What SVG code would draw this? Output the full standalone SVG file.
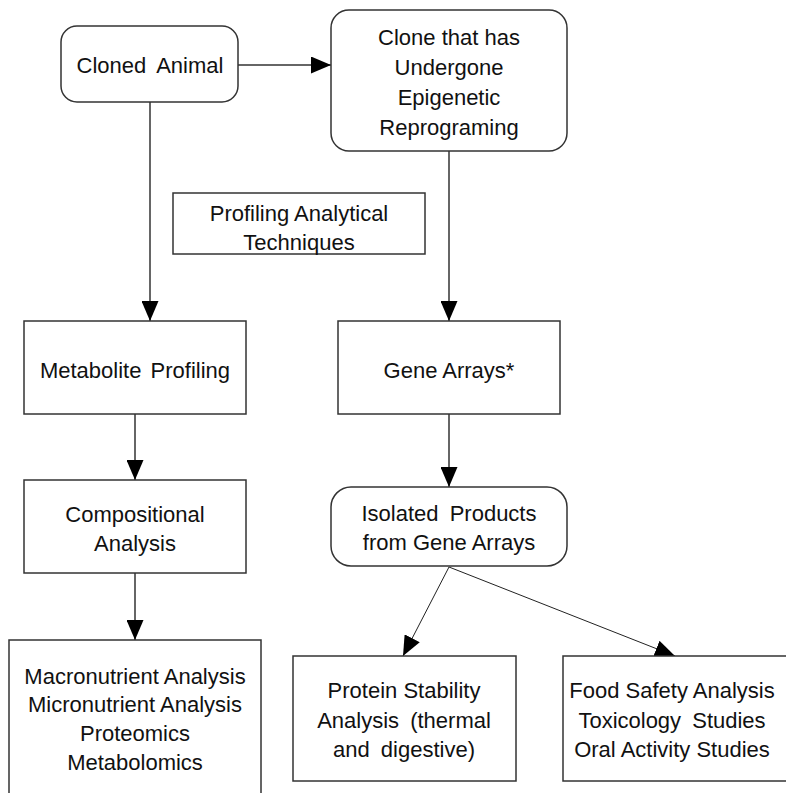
<svg xmlns="http://www.w3.org/2000/svg" width="786" height="793" viewBox="0 0 786 793">
<style>
.box{fill:#fff;stroke:#333;stroke-width:1.5}
.t{font-family:"Liberation Sans",Arial,sans-serif;font-size:22px;fill:#111;text-anchor:middle}
.w{word-spacing:5px}
.c{fill:none;stroke:#333;stroke-width:1.5}
.d{fill:none;stroke:#222;stroke-width:1}
</style>
<defs>
<marker id="ah" markerUnits="userSpaceOnUse" markerWidth="20" markerHeight="17" refX="20" refY="8.5" orient="auto">
<path d="M0,0 L20,8.5 L0,17 z" fill="#000"/>
</marker>
</defs>
<rect width="786" height="793" fill="#fff"/>
<g id="connectors">
<line class="c" x1="238" y1="65" x2="331" y2="65" marker-end="url(#ah)"/>
<line class="c" x1="150" y1="102" x2="150" y2="321" marker-end="url(#ah)"/>
<line class="c" x1="449" y1="151" x2="449" y2="321" marker-end="url(#ah)"/>
<line class="c" x1="135" y1="414" x2="135" y2="480" marker-end="url(#ah)"/>
<line class="c" x1="135" y1="573" x2="135" y2="640" marker-end="url(#ah)"/>
<line class="c" x1="449" y1="414" x2="449" y2="487" marker-end="url(#ah)"/>
<line class="d" x1="449" y1="567" x2="403" y2="656" marker-end="url(#ah)"/>
<line class="d" x1="449" y1="567" x2="675" y2="656" marker-end="url(#ah)"/>
</g>
<g id="cloned-animal">
<rect class="box" x="61" y="26" width="177" height="76" rx="16"/>
<text class="t w" x="150" y="73">Cloned Animal</text>
</g>
<g id="clone-reprogramed">
<rect class="box" x="331" y="10" width="236" height="141" rx="18"/>
<text class="t" x="449" y="45">Clone that has</text>
<text class="t" x="449" y="75">Undergone</text>
<text class="t" x="449" y="105">Epigenetic</text>
<text class="t" x="449" y="135">Reprograming</text>
</g>
<g id="profiling">
<rect class="box" x="173" y="193" width="252" height="61"/>
<text class="t" x="299" y="221">Profiling Analytical</text>
<text class="t" x="299" y="250">Techniques</text>
</g>
<g id="metabolite">
<rect class="box" x="24" y="321" width="222" height="93"/>
<text class="t" x="135" y="378" style="word-spacing:3px">Metabolite Profiling</text>
</g>
<g id="gene-arrays">
<rect class="box" x="338" y="321" width="222" height="93"/>
<text class="t" x="449" y="378">Gene Arrays*</text>
</g>
<g id="compositional">
<rect class="box" x="24" y="480" width="222" height="93"/>
<text class="t" x="135" y="522">Compositional</text>
<text class="t" x="135" y="551">Analysis</text>
</g>
<g id="isolated">
<rect class="box" x="331" y="487" width="236" height="79" rx="20"/>
<text class="t w" x="449" y="521">Isolated Products</text>
<text class="t" x="449" y="550">from Gene Arrays</text>
</g>
<g id="macronutrient">
<rect class="box" x="9" y="640" width="252" height="170"/>
<text class="t" x="135" y="684">Macronutrient Analysis</text>
<text class="t" x="135" y="712">Micronutrient Analysis</text>
<text class="t" x="135" y="741">Proteomics</text>
<text class="t" x="135" y="770">Metabolomics</text>
</g>
<g id="protein">
<rect class="box" x="293" y="656" width="223" height="125"/>
<text class="t" x="404" y="698">Protein Stability</text>
<text class="t w" x="404" y="728">Analysis (thermal</text>
<text class="t w" x="404" y="757">and digestive)</text>
</g>
<g id="food-safety">
<rect class="box" x="563" y="656" width="240" height="125"/>
<text class="t" x="672" y="698">Food Safety Analysis</text>
<text class="t w" x="672" y="728">Toxicology Studies</text>
<text class="t" x="672" y="757">Oral Activity Studies</text>
</g>
</svg>
